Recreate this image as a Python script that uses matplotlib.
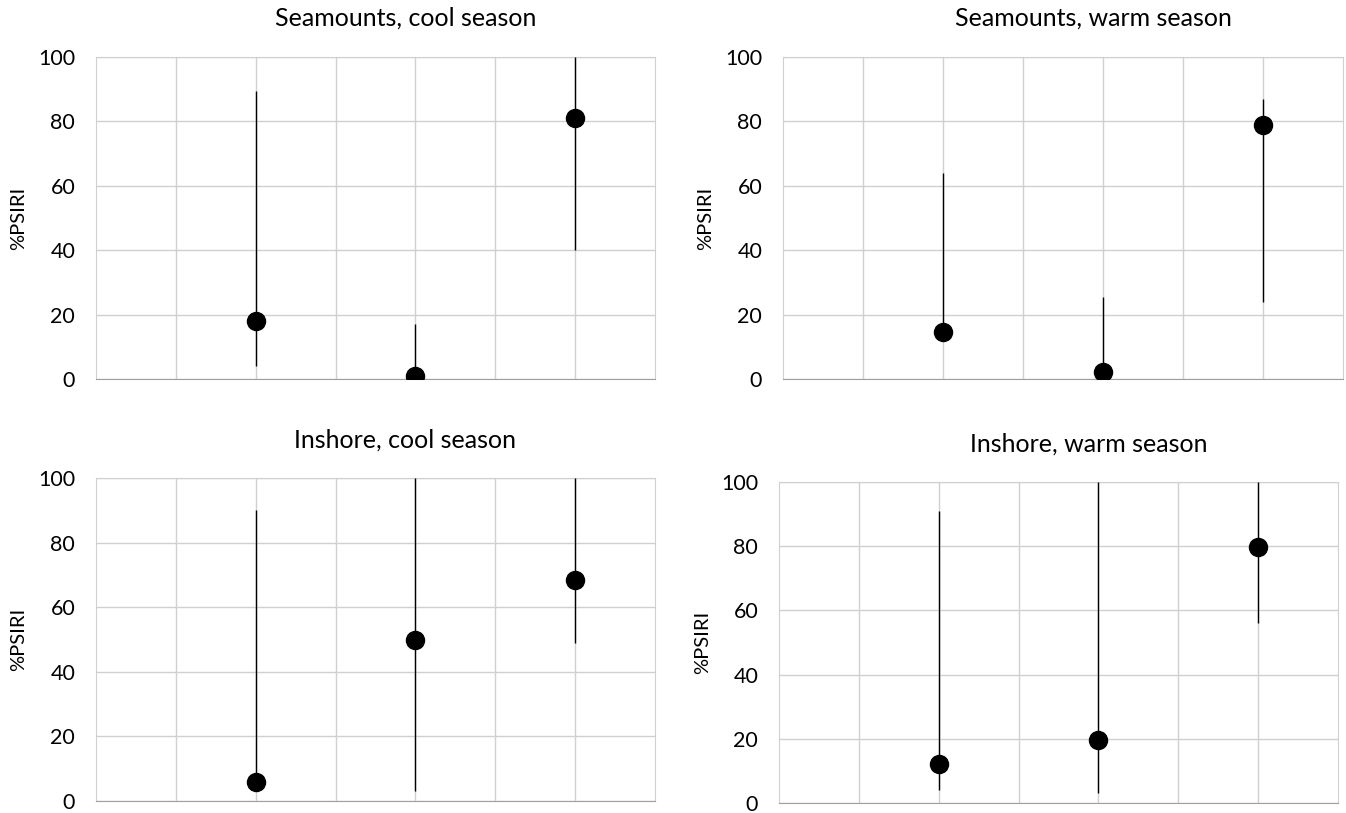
import numpy as np
import matplotlib.pyplot as plt

plt.rcParams['font.family'] = ['Lato', 'DejaVu Sans']

# x positions of the three groups
x = [2, 4, 6]

titles = ['Seamounts, cool season', 'Seamounts, warm season',
          'Inshore, cool season', 'Inshore, warm season']

# %PSIRI values and interval limits per panel
sm_cool = [18, 0.8, 81]
sm_cool_lo = [4, 0, 40]
sm_cool_hi = [89.5, 17, 100]

sm_warm = [14.7, 2.2, 79]
sm_warm_lo = [13, 0, 24]
sm_warm_hi = [64, 25.5, 87]

in_cool = [6, 49.7, 68.3]
in_cool_lo = [4, 3, 49]
in_cool_hi = [90, 100, 100]

in_warm = [12, 19.5, 79.7]
in_warm_lo = [4, 3, 56]
in_warm_hi = [91, 100, 100]

panels = [(sm_cool, sm_cool_lo, sm_cool_hi),
          (sm_warm, sm_warm_lo, sm_warm_hi),
          (in_cool, in_cool_lo, in_cool_hi),
          (in_warm, in_warm_lo, in_warm_hi)]

fig = plt.figure(figsize=(13.46, 8.13), dpi=100)
W, H = 1346, 813
# axes boxes in pixels: left, top, right, bottom
boxes = [(96, 57, 655, 379), (783, 57, 1343, 379),
         (96, 478, 655, 801), (779, 482, 1338, 803)]
title_y = [18, 18, 440, 444]
ylab_x = [19, 706, 19, 703]

for i, (vals, lo, hi) in enumerate(panels):
    l, t, r, b = boxes[i]
    ax = fig.add_axes([l / W, 1 - b / H, (r - l) / W, (b - t) / H])
    v = np.array(vals)
    yerr = [v - np.array(lo), np.array(hi) - v]
    ax.errorbar(x, v, yerr=yerr, fmt='o', color='black', ms=13,
                elinewidth=1, capsize=0, zorder=3)
    ax.set_xlim(0, 7)
    ax.set_ylim(0, 100)
    ax.set_xticks(range(1, 7))
    ax.set_xticklabels([])
    ax.set_yticks(range(0, 101, 20))
    ax.tick_params(axis='both', length=0, labelsize=15.5, pad=15)
    ax.grid(True, color='#d0d0d0', linewidth=1)
    ax.set_axisbelow(True)
    for s in ax.spines.values():
        s.set_color('#d0d0d0')
    ax.spines['bottom'].set_color('#a0a0a0')
    ax.set_ylabel('%PSIRI', fontsize=14.5)
    ax.yaxis.set_label_coords((ylab_x[i] - l) / (r - l), 0.5)
    ax.yaxis.label.set_va('center')
    fig.text(((l + r) / 2 + 30) / W, 1 - title_y[i] / H, titles[i],
             fontsize=18, ha='center', va='center')

fig.savefig('out.png', dpi=100)
